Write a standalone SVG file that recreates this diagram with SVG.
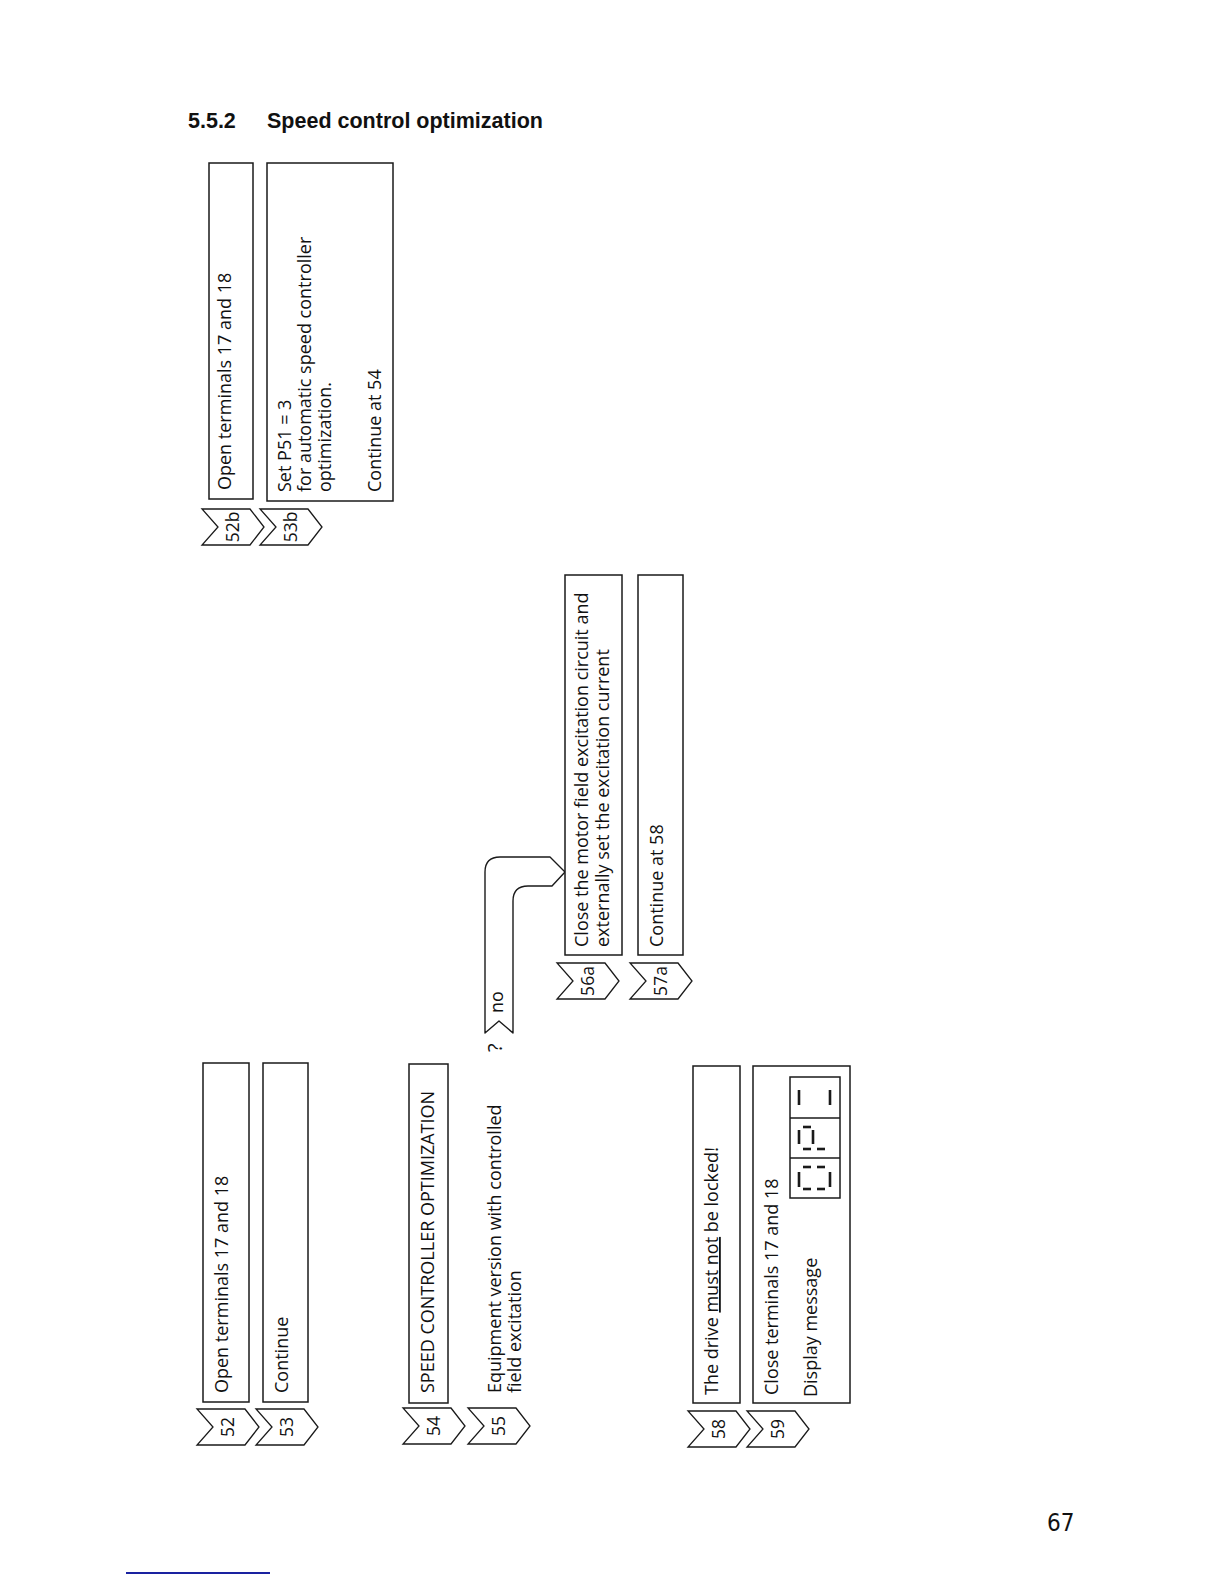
<svg xmlns="http://www.w3.org/2000/svg" width="1224" height="1584" viewBox="0 0 1224 1584">
<style>
.bg{fill:#ffffff}
.box{fill:#ffffff;stroke:#1a1a1a;stroke-width:1.5}
.chev{fill:#ffffff;stroke:#1a1a1a;stroke-width:1.3;stroke-linejoin:miter}
.t{font-family:"Open Sans","Liberation Sans",Arial,sans-serif;font-size:18px;fill:#111111}
.n{font-family:"Open Sans","Liberation Sans",Arial,sans-serif;font-size:17.5px;fill:#111111;text-anchor:middle}
.h{font-family:"Liberation Sans","Noto Sans",Arial,sans-serif;font-size:21.5px;font-weight:bold;fill:#111111}
.seg{stroke:#1a1a1a;stroke-width:2.6;fill:none}
.conn{fill:#ffffff;stroke:#1a1a1a;stroke-width:1.4;stroke-linejoin:round}
</style>
<defs>
<polygon id="chevron" points="0,0 48,0 62,18 48,36 0,36 16,18"/>
</defs>
<rect class="bg" x="0" y="0" width="1224" height="1584"/>

<g id="title">
<text class="h" x="188" y="128">5.5.2</text>
<text class="h" x="267" y="128">Speed control optimization</text>
</g>

<g id="connectors">
<path class="conn" d="M485,1033 L485,872 Q485,857 500,857 L550,857 L565,872 L552,886 L528,886 Q513,886 513,901 L513,1033 L499,1021 Z"/>
<text class="t" transform="translate(503,1013) rotate(-90)">no</text>
<text class="t" style="font-size:20px" transform="translate(502,1052) rotate(-90)">?</text>
</g>

<g id="node-52">
<rect class="box" x="203" y="1063" width="46" height="339"/>
<text class="t" transform="translate(228,1393) rotate(-90)">Open terminals 17 and 18</text>
<use href="#chevron" class="chev" x="197" y="1409"/>
<text class="n" transform="translate(234,1427) rotate(-90)">52</text>
</g>

<g id="node-53">
<rect class="box" x="263" y="1063" width="45" height="339"/>
<text class="t" transform="translate(288,1393) rotate(-90)">Continue</text>
<use href="#chevron" class="chev" x="256" y="1409"/>
<text class="n" transform="translate(293,1427) rotate(-90)">53</text>
</g>

<g id="node-54">
<rect class="box" x="409" y="1064" width="39" height="339"/>
<text class="t" transform="translate(434,1393) rotate(-90)">SPEED CONTROLLER OPTIMIZATION</text>
<use href="#chevron" class="chev" x="403" y="1408"/>
<text class="n" transform="translate(440,1426) rotate(-90)">54</text>
</g>

<g id="node-55">
<text class="t" transform="translate(501,1393) rotate(-90)">Equipment version with controlled</text>
<text class="t" transform="translate(521,1393) rotate(-90)">field excitation</text>
<use href="#chevron" class="chev" x="468" y="1408"/>
<text class="n" transform="translate(505,1426) rotate(-90)">55</text>
</g>

<g id="node-56a">
<rect class="box" x="565" y="575" width="57" height="380"/>
<text class="t" transform="translate(588,947) rotate(-90)">Close the motor field excitation circuit and</text>
<text class="t" transform="translate(609,947) rotate(-90)">externally set the excitation current</text>
<use href="#chevron" class="chev" x="557" y="963"/>
<text class="n" transform="translate(594,981) rotate(-90)">56a</text>
</g>

<g id="node-57a">
<rect class="box" x="638" y="575" width="45" height="380"/>
<text class="t" transform="translate(663,947) rotate(-90)">Continue at 58</text>
<use href="#chevron" class="chev" x="630" y="963"/>
<text class="n" transform="translate(667,981) rotate(-90)">57a</text>
</g>

<g id="node-52b">
<rect class="box" x="209" y="163" width="44" height="336"/>
<text class="t" transform="translate(231,490) rotate(-90)">Open terminals 17 and 18</text>
<use href="#chevron" class="chev" x="202" y="509"/>
<text class="n" transform="translate(239,527) rotate(-90)">52b</text>
</g>

<g id="node-53b">
<rect class="box" x="267" y="163" width="126" height="338"/>
<text class="t" transform="translate(291,492) rotate(-90)">Set P51 = 3</text>
<text class="t" transform="translate(311,492) rotate(-90)">for automatic speed controller</text>
<text class="t" transform="translate(331,492) rotate(-90)">optimization.</text>
<text class="t" transform="translate(381,492) rotate(-90)">Continue at 54</text>
<use href="#chevron" class="chev" x="260" y="509"/>
<text class="n" transform="translate(297,527) rotate(-90)">53b</text>
</g>

<g id="node-58">
<rect class="box" x="693" y="1066" width="47" height="337"/>
<text class="t" transform="translate(718,1395) rotate(-90)">The drive <tspan text-decoration="underline">must not</tspan> be locked!</text>
<use href="#chevron" class="chev" x="688" y="1411"/>
<text class="n" transform="translate(725,1429) rotate(-90)">58</text>
</g>

<g id="node-59">
<rect class="box" x="753" y="1066" width="97" height="337"/>
<text class="t" transform="translate(778,1395) rotate(-90)">Close terminals 17 and 18</text>
<text class="t" transform="translate(817,1397) rotate(-90)">Display message</text>
<g id="display">
<rect class="box" x="790" y="1077" width="50" height="121"/>
<line class="box" x1="790" y1="1118" x2="840" y2="1118"/>
<line class="box" x1="790" y1="1158" x2="840" y2="1158"/>
<line class="seg" x1="799" y1="1090" x2="799" y2="1105"/>
<line class="seg" x1="830" y1="1090" x2="830" y2="1105"/>
<line class="seg" x1="799" y1="1130" x2="799" y2="1144"/>
<line class="seg" x1="813" y1="1130" x2="813" y2="1144"/>
<line class="seg" x1="803" y1="1127" x2="811" y2="1127"/>
<line class="seg" x1="803" y1="1149" x2="811" y2="1149"/>
<line class="seg" x1="817" y1="1149" x2="825" y2="1149"/>
<line class="seg" x1="799" y1="1172" x2="799" y2="1187"/>
<line class="seg" x1="830" y1="1172" x2="830" y2="1187"/>
<line class="seg" x1="803" y1="1167" x2="811" y2="1167"/>
<line class="seg" x1="817" y1="1167" x2="825" y2="1167"/>
<line class="seg" x1="803" y1="1189" x2="811" y2="1189"/>
<line class="seg" x1="817" y1="1189" x2="825" y2="1189"/>
</g>
<use href="#chevron" class="chev" x="747" y="1411"/>
<text class="n" transform="translate(784,1429) rotate(-90)">59</text>
</g>

<g id="footer">
<text x="1047" y="1531" style="font-family:'Liberation Sans Narrow','DejaVu Sans Condensed','Liberation Sans',sans-serif;font-size:24px;fill:#111111">67</text>
<line x1="126" y1="1573" x2="270" y2="1573" stroke="#1a22a0" stroke-width="2"/>
</g>
</svg>
